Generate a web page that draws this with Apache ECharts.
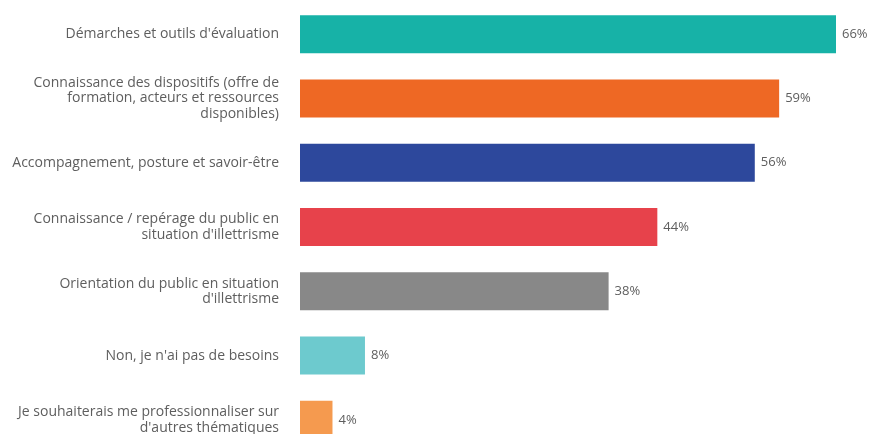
<!DOCTYPE html>
<html>
<head>
<meta charset="utf-8">
<script src="https://cdn.jsdelivr.net/npm/echarts@6/dist/echarts.min.js"></script>
<style>html,body{margin:0;padding:0;background:#fff}#c{width:870px;height:434px}</style>
</head>
<body>
<div id="c"></div>
<script>
const categories = [
  "Démarches et outils d'évaluation",
  "Connaissance des dispositifs (offre de\nformation, acteurs et ressources\ndisponibles)",
  "Accompagnement, posture et savoir-être",
  "Connaissance / repérage du public en\nsituation d'illettrisme",
  "Orientation du public en situation\nd'illettrisme",
  "Non, je n'ai pas de besoins",
  "Je souhaiterais me professionnaliser sur\nd'autres thématiques"
];
const values = [66, 59, 56, 44, 38, 8, 4];
const colors = ['#17B2A7', '#EE6824', '#2D489C', '#E7424B', '#888888', '#6DCACE', '#F59A4F'];

const chart = echarts.init(document.getElementById('c'));
chart.setOption({
  animation: false,
  grid: { left: 300, top: 2, width: 536, height: 450, outerBoundsMode: 'none', containLabel: false },
  xAxis: { type: 'value', min: 0, max: 66, show: false },
  yAxis: {
    type: 'category', inverse: true, data: categories,
    axisLine: { show: false }, axisTick: { show: false },
    axisLabel: { margin: 21, color: '#5e5e5e', fontFamily: 'Open Sans', fontSize: 14, lineHeight: 15.5, align: 'right' }
  },
  series: [{
    type: 'bar', barWidth: 38,
    data: values.map((v, i) => ({ value: v, itemStyle: { color: colors[i] } })),
    label: { show: true, position: 'right', distance: 6, formatter: '{c}%', color: '#5e5e5e', fontFamily: 'Open Sans', fontSize: 13 }
  }]
});
</script>
</body>
</html>
